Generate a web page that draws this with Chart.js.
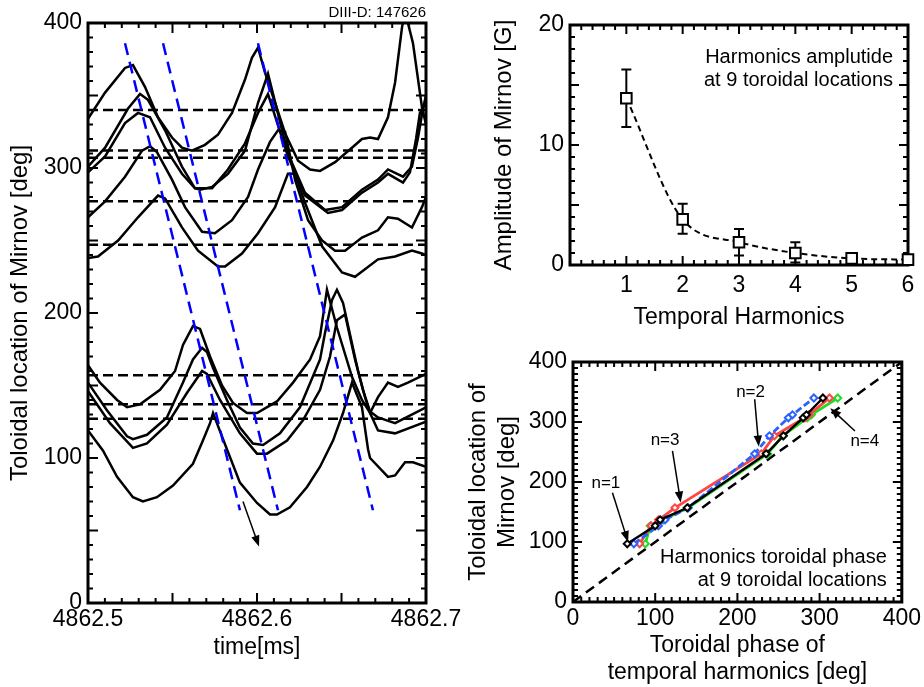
<!DOCTYPE html>
<html lang="en">
<head>
<meta charset="UTF-8">
<title>Mirnov harmonics</title>
<script src="https://cdn.jsdelivr.net/npm/chart.js@4/dist/chart.umd.min.js"></script>
<style>
    html, body { margin: 0; padding: 0; background: #fff; }
    #wrap { position: relative; width: 924px; height: 687px; overflow: hidden; }
    canvas { position: absolute; }
    #left { left: 0; top: 0; }
    #amp { left: 460px; top: 0; }
    #phase { left: 460px; top: 340px; }
</style>
</head>
<body>
<div id="wrap">
    <canvas id="left" width="480" height="687"></canvas>
    <canvas id="amp" width="464" height="340"></canvas>
    <canvas id="phase" width="464" height="347"></canvas>
</div>
<script>
// ---- left panel: Mirnov signals vs time ----
const timeTicks = [4862.5, 4862.6, 4862.7];
const locTicks = [0, 100, 200, 300, 400];
const probeLoc = [340, 312, 307, 277, 247, 157, 137, 127];

const probe340 = [[4862.5000,334],[4862.5101,352],[4862.5219,369],[4862.5266,371],[4862.5337,356],[4862.5414,335],[4862.5497,321],[4862.5556,314],[4862.5615,312],[4862.5692,316],[4862.5769,323],[4862.5852,338],[4862.5929,361],[4862.5970,376],[4862.6006,383],[4862.6047,366],[4862.6107,345],[4862.6166,324],[4862.6243,305],[4862.6314,299],[4862.6373,298],[4862.6462,304],[4862.6562,314],[4862.6621,320],[4862.6669,321],[4862.6716,320],[4862.6775,335],[4862.6817,359],[4862.6858,397],[4862.6876,408],[4862.6923,386],[4862.6976,342],[4862.7000,330]];
const probe312 = [[4862.5000,301],[4862.5101,314],[4862.5237,341],[4862.5308,351],[4862.5355,347],[4862.5456,326],[4862.5556,301],[4862.5633,286],[4862.5663,285],[4862.5734,287],[4862.5828,296],[4862.5929,312],[4862.6006,345],[4862.6065,365],[4862.6183,310],[4862.6284,283],[4862.6402,271],[4862.6503,273],[4862.6621,285],[4862.6716,292],[4862.6775,299],[4862.6864,294],[4862.6917,301],[4862.6953,321],[4862.6982,341],[4862.7000,350]];
const probe307 = [[4862.5000,297],[4862.5101,308],[4862.5219,331],[4862.5296,338],[4862.5367,335],[4862.5456,314],[4862.5556,296],[4862.5633,286],[4862.5734,286],[4862.5828,299],[4862.5929,317],[4862.6006,338],[4862.6065,351],[4862.6183,308],[4862.6284,281],[4862.6420,269],[4862.6503,271],[4862.6621,283],[4862.6716,290],[4862.6775,296],[4862.6864,290],[4862.6905,297],[4862.6941,320],[4862.6964,338],[4862.7000,345]];
const probe277 = [[4862.5000,266],[4862.5101,277],[4862.5219,294],[4862.5320,312],[4862.5367,315],[4862.5408,311],[4862.5497,292],[4862.5574,273],[4862.5675,256],[4862.5751,255],[4862.5852,264],[4862.5947,280],[4862.6006,299],[4862.6077,318],[4862.6124,326],[4862.6166,325],[4862.6225,292],[4862.6302,264],[4862.6385,250],[4862.6462,243],[4862.6521,243],[4862.6621,252],[4862.6716,257],[4862.6775,266],[4862.6834,265],[4862.6917,259],[4862.6976,273],[4862.7000,280]];
const probe247 = [[4862.5000,238],[4862.5059,239],[4862.5178,250],[4862.5296,266],[4862.5414,281],[4862.5456,279],[4862.5556,259],[4862.5651,243],[4862.5769,232],[4862.5811,232],[4862.5911,241],[4862.6006,255],[4862.6107,273],[4862.6183,296],[4862.6225,296],[4862.6284,276],[4862.6385,246],[4862.6503,228],[4862.6580,225],[4862.6716,237],[4862.6817,239],[4862.6917,243],[4862.6976,241],[4862.7000,240]];
const probe157 = [[4862.5000,164],[4862.5071,152],[4862.5172,140],[4862.5231,135],[4862.5308,137],[4862.5426,147],[4862.5515,160],[4862.5562,178],[4862.5621,191],[4862.5663,189],[4862.5722,170],[4862.5793,150],[4862.5858,138],[4862.5941,131],[4862.6000,131],[4862.6118,139],[4862.6213,152],[4862.6314,168],[4862.6373,184],[4862.6414,216],[4862.6473,190],[4862.6562,156],[4862.6621,140],[4862.6669,131],[4862.6716,142],[4862.6775,152],[4862.6834,149],[4862.6893,152],[4862.7000,158]];
const probe137 = [[4862.5000,152],[4862.5112,133],[4862.5231,115],[4862.5266,113],[4862.5349,116],[4862.5467,128],[4862.5562,152],[4862.5621,168],[4862.5675,176],[4862.5704,173],[4862.5740,162],[4862.5822,140],[4862.5899,121],[4862.5976,110],[4862.6036,109],[4862.6136,117],[4862.6254,135],[4862.6373,168],[4862.6402,186],[4862.6444,209],[4862.6473,216],[4862.6509,207],[4862.6598,160],[4862.6627,147],[4862.6669,132],[4862.6716,128],[4862.6817,124],[4862.7000,135]];
const probe127 = [[4862.5000,146],[4862.5130,124],[4862.5266,107],[4862.5349,110],[4862.5467,123],[4862.5586,145],[4862.5675,160],[4862.5704,158],[4862.5781,140],[4862.5899,117],[4862.6000,103],[4862.6059,103],[4862.6178,112],[4862.6272,126],[4862.6373,147],[4862.6432,170],[4862.6473,195],[4862.6521,199],[4862.6580,168],[4862.6639,142],[4862.6669,131],[4862.6716,119],[4862.6817,117],[4862.7000,125]];
const probe97 = [[4862.5000,119],[4862.5089,105],[4862.5172,87],[4862.5266,73],[4862.5325,70],[4862.5408,73],[4862.5503,81],[4862.5621,96],[4862.5680,112],[4862.5722,124],[4862.5740,131],[4862.5822,106],[4862.5899,83],[4862.6000,69],[4862.6077,61],[4862.6118,61],[4862.6195,66],[4862.6296,80],[4862.6373,94],[4862.6450,112],[4862.6509,131],[4862.6562,152],[4862.6621,135],[4862.6657,106],[4862.6669,100],[4862.6775,87],[4862.6817,88],[4862.6876,97],[4862.6923,97],[4862.7000,94]];

// blue phase fronts and the arrow
const phaseFronts = [
    [[4862.5219, 386], [4862.5899, 64]],
    [[4862.5444, 386], [4862.6124, 64]],
    [[4862.6006, 386], [4862.6686, 64]]
];
const leftArrow = [[4862.5917, 70], [4862.6012, 39]];

// ---- top right: harmonic amplitude ----
const harmonics = [1, 2, 3, 4, 5, 6];
const amplitude = [13.9, 3.8, 1.9, 1.0, 0.55, 0.45];
const ampLow = [11.5, 2.6, 0.8, 0.2, 0.4, 0.35];
const ampHigh = [16.3, 5.1, 3.0, 1.9, 0.7, 0.55];
const harmTicks = [1, 2, 3, 4, 5, 6];
const ampTicks = [0, 10, 20];

// ---- bottom right: toroidal phase ----
const mirnovLoc = [97, 127, 137, 157, 247, 277, 307, 312, 340];
const phaseN1 = [66, 100, 106, 139, 235, 256, 280, 284, 304];
const phaseN2 = [74, 104, 112, 140, 221, 239, 262, 267, 293];
const phaseN3 = [81, 95, 104, 124, 229, 245, 282, 287, 312];
const phaseN4 = [88, 94, 110, 140, 237, 255, 285, 290, 322];
const refLine = [0, 400];
const phaseTicks = [0, 100, 200, 300, 400];
const nLabels = ['n=1', 'n=2', 'n=3', 'n=4'];
const nLabelPos = [[40, 198], [216, 350], [112, 270], [355, 267]];
const nArrowFrom = [[48, 182], [221, 338], [121, 252], [343, 285]];
const nArrowTo = [[67, 100], [226, 259], [131, 166], [313, 323]];

Chart.defaults.font.family = "'Liberation Sans', Arial, sans-serif";
Chart.defaults.color = '#000';

const FONT_TICK = { size: 23 };
const FONT_TITLE = { size: 24, lineHeight: 1.2 };

// frame with inward ticks on all four sides
const frameTicks = {
    id: 'frameTicks',
    beforeDatasetsDraw(chart, args, o) {
        const { ctx, chartArea: a } = chart;
        const sx = chart.scales.x, sy = chart.scales.y;
        ctx.save();
        ctx.strokeStyle = '#000';
        ctx.lineWidth = 2;
        ctx.beginPath();
        const nx = Math.round((o.x.max - o.x.min) / o.x.step);
        for (let i = 0; i <= nx; i++) {
            const px = sx.getPixelForValue(o.x.min + i * o.x.step);
            const len = i % o.x.every === 0 ? o.major : o.minor;
            ctx.moveTo(px, a.bottom); ctx.lineTo(px, a.bottom - len);
            ctx.moveTo(px, a.top); ctx.lineTo(px, a.top + len);
        }
        const ny = Math.round((o.y.max - o.y.min) / o.y.step);
        for (let i = 0; i <= ny; i++) {
            const py = sy.getPixelForValue(o.y.min + i * o.y.step);
            const len = i % o.y.every === 0 ? o.major : o.minor;
            ctx.moveTo(a.left, py); ctx.lineTo(a.left + len, py);
            ctx.moveTo(a.right, py); ctx.lineTo(a.right - len, py);
        }
        ctx.stroke();
        ctx.lineWidth = 3;
        ctx.strokeRect(a.left, a.top, a.right - a.left, a.bottom - a.top);
        ctx.restore();
    }
};

function drawArrow(ctx, x0, y0, x1, y1, head, width) {
    const ang = Math.atan2(y1 - y0, x1 - x0);
    const c = Math.cos(ang), s = Math.sin(ang);
    ctx.lineWidth = width;
    ctx.beginPath();
    ctx.moveTo(x0, y0);
    ctx.lineTo(x1 - head * 0.8 * c, y1 - head * 0.8 * s);
    ctx.stroke();
    ctx.beginPath();
    ctx.moveTo(x1, y1);
    ctx.lineTo(x1 - head * c + head * 0.38 * s, y1 - head * s - head * 0.38 * c);
    ctx.lineTo(x1 - head * c - head * 0.38 * s, y1 - head * s + head * 0.38 * c);
    ctx.closePath();
    ctx.fill();
}

// arrows, labels and corner notes
const notes = {
    id: 'notes',
    afterDatasetsDraw(chart, args, o) {
        const { ctx, chartArea: a } = chart;
        const sx = chart.scales.x, sy = chart.scales.y;
        ctx.save();
        ctx.strokeStyle = '#000';
        ctx.fillStyle = '#000';
        (o.arrows || []).forEach(([from, to]) => {
            drawArrow(ctx, sx.getPixelForValue(from[0]), sy.getPixelForValue(from[1]),
                sx.getPixelForValue(to[0]), sy.getPixelForValue(to[1]), o.head || 10, o.arrowWidth || 1.5);
        });
        ctx.textAlign = 'center';
        ctx.textBaseline = 'middle';
        (o.labels || []).forEach(l => {
            ctx.font = `${l.size}px 'Liberation Sans', Arial, sans-serif`;
            ctx.fillText(l.text, sx.getPixelForValue(l.pos[0]), sy.getPixelForValue(l.pos[1]));
        });
        ctx.textAlign = 'right';
        (o.corner || []).forEach(c => {
            ctx.font = `${c.size}px 'Liberation Sans', Arial, sans-serif`;
            const base = c.fromBottom ? a.bottom : a.top;
            c.lines.forEach((t, i) => ctx.fillText(t, a.right - c.right, base + c.offset + i * c.step));
        });
        ctx.restore();
    }
};

// error bars under the square markers
const errorBars = {
    id: 'errorBars',
    beforeDatasetsDraw(chart) {
        const { ctx } = chart;
        const sx = chart.scales.x, sy = chart.scales.y;
        ctx.save();
        ctx.strokeStyle = '#000';
        ctx.lineWidth = 2;
        ctx.beginPath();
        harmonics.forEach((h, i) => {
            const px = sx.getPixelForValue(h);
            const lo = sy.getPixelForValue(ampLow[i]);
            const hi = sy.getPixelForValue(ampHigh[i]);
            ctx.moveTo(px, lo); ctx.lineTo(px, hi);
            ctx.moveTo(px - 5, lo); ctx.lineTo(px + 5, lo);
            ctx.moveTo(px - 5, hi); ctx.lineTo(px + 5, hi);
        });
        ctx.stroke();
        ctx.restore();
    }
};

const pts = arr => arr.map(([x, y]) => ({ x, y }));

function xAxis(min, max, ticks, fmt, title, height, tickPad, titlePad) {
    return {
        type: 'linear', min, max,
        grid: { display: false, drawTicks: false }, border: { display: false },
        afterBuildTicks: s => { s.ticks = ticks.map(v => ({ value: v })); },
        afterFit: s => { s.height = height; },
        ticks: { font: FONT_TICK, color: '#000', padding: tickPad, maxRotation: 0, autoSkip: false, callback: fmt },
        title: { display: true, text: title, font: { size: 23, lineHeight: 1.18 }, color: '#000', padding: { top: 0, bottom: titlePad } }
    };
}
function yAxis(min, max, ticks, title, width, titlePad) {
    return {
        type: 'linear', min, max,
        grid: { display: false, drawTicks: false }, border: { display: false },
        afterBuildTicks: s => { s.ticks = ticks.map(v => ({ value: v })); },
        afterFit: s => { s.width = width; },
        ticks: { font: FONT_TICK, color: '#000', padding: 6, autoSkip: false, callback: v => String(v) },
        title: { display: true, text: title, font: FONT_TITLE, color: '#000', padding: { top: titlePad, bottom: 0 } }
    };
}

// ---- left chart ----
const tMin = timeTicks[0], tMax = timeTicks[timeTicks.length - 1];
const leftSets = [];
phaseFronts.forEach(f => leftSets.push({
    data: pts(f), borderColor: '#0000ff', borderWidth: 2.5, borderDash: [12, 7], pointRadius: 0
}));
[probe340, probe312, probe307, probe277, probe247, probe157, probe137, probe127, probe97].forEach(c => leftSets.push({
    data: pts(c), borderColor: '#000', borderWidth: 2.5, pointRadius: 0, tension: 0
}));
probeLoc.forEach(v => leftSets.push({
    data: [{ x: tMin, y: v }, { x: tMax, y: v }], borderColor: '#000', borderWidth: 2.5, borderDash: [10, 5], pointRadius: 0
}));

new Chart(document.getElementById('left'), {
    type: 'line',
    data: { datasets: leftSets },
    options: {
        responsive: false, animation: false, events: [],
        layout: { padding: { top: 23, right: 54, left: 0, bottom: 0 } },
        plugins: {
            legend: { display: false }, tooltip: { enabled: false },
            frameTicks: { x: { min: tMin, max: tMax, step: 0.01, every: 5 }, y: { min: 0, max: 400, step: 10, every: 5 }, major: 10, minor: 5 },
            notes: {
                arrows: [leftArrow], head: 11, arrowWidth: 1.5,
                corner: [{ lines: ['DIII-D: 147626'], size: 15, right: 0, offset: -10, step: 0 }]
            }
        },
        scales: {
            x: xAxis(tMin, tMax, timeTicks, v => v.toFixed(1), 'time[ms]', 84, 3, 26),
            y: yAxis(0, 400, locTicks, 'Toloidal location of Mirnov [deg]', 88, 6)
        }
    },
    plugins: [frameTicks, notes]
});

// ---- amplitude chart ----
new Chart(document.getElementById('amp'), {
    type: 'line',
    data: {
        datasets: [{
            data: harmonics.map((h, i) => ({ x: h, y: amplitude[i] })),
            borderColor: '#000', borderWidth: 2, borderDash: [6, 4],
            pointStyle: 'rect', pointRadius: 7.5, pointBorderWidth: 2,
            pointBackgroundColor: '#fff', pointBorderColor: '#000',
            cubicInterpolationMode: 'monotone', clip: false
        }]
    },
    options: {
        responsive: false, animation: false, events: [],
        layout: { padding: { top: 25, right: 16, left: 0, bottom: 0 } },
        plugins: {
            legend: { display: false }, tooltip: { enabled: false },
            frameTicks: { x: { min: 0, max: 6, step: 0.2, every: 5 }, y: { min: 0, max: 20, step: 1, every: 5 }, major: 9, minor: 5 },
            notes: {
                corner: [{ lines: ['Harmonics amplutide', 'at 9 toroidal locations'], size: 20, right: 15, offset: 32, step: 23 }]
            }
        },
        scales: {
            x: xAxis(0, 6, harmTicks, v => String(v), 'Temporal Harmonics', 75, 7, 9),
            y: yAxis(0, 20, ampTicks, 'Amplitude of Mirnov [G]', 110, 30)
        }
    },
    plugins: [frameTicks, errorBars, notes]
});

// ---- phase chart ----
function phaseSet(xs, color, dash, width) {
    return {
        data: xs.map((x, i) => ({ x, y: mirnovLoc[i] })),
        borderColor: color, borderWidth: width, borderDash: dash,
        pointStyle: 'rectRot', pointRadius: 3.5, pointBorderWidth: 2,
        pointBackgroundColor: '#fff', pointBorderColor: color, clip: false
    };
}
new Chart(document.getElementById('phase'), {
    type: 'line',
    data: {
        datasets: [
            phaseSet(phaseN1, '#000', [], 2.4),
            phaseSet(phaseN2, '#2a62ff', [7, 3], 2.8),
            phaseSet(phaseN3, '#ff4444', [], 2.8),
            phaseSet(phaseN4, '#22dd22', [], 2.8),
            { data: refLine.map(v => ({ x: v, y: v })), borderColor: '#000', borderWidth: 2.5, borderDash: [10, 6], pointRadius: 0 }
        ]
    },
    options: {
        responsive: false, animation: false, events: [],
        layout: { padding: { top: 22, right: 16, left: 0, bottom: 0 } },
        plugins: {
            legend: { display: false }, tooltip: { enabled: false },
            frameTicks: { x: { min: 0, max: 400, step: 10, every: 10 }, y: { min: 0, max: 400, step: 10, every: 10 }, major: 9, minor: 5 },
            notes: {
                arrows: nArrowFrom.map((f, i) => [f, nArrowTo[i]]), head: 11, arrowWidth: 1.5,
                labels: nLabels.map((t, i) => ({ text: t, pos: nLabelPos[i], size: 17 })),
                corner: [{ lines: ['Harmonics toroidal phase', 'at 9 toroidal locations'], size: 20, right: 15, offset: -45, step: 23, fromBottom: true }]
            }
        },
        scales: {
            x: xAxis(0, 400, phaseTicks, v => String(v), ['Toroidal phase of', 'temporal harmonics [deg]'], 85, 3, 1),
            y: yAxis(0, 400, phaseTicks, ['Toloidal location of', 'Mirnov [deg]'], 113, 4)
        }
    },
    plugins: [frameTicks, notes]
});
</script>
</body>
</html>
